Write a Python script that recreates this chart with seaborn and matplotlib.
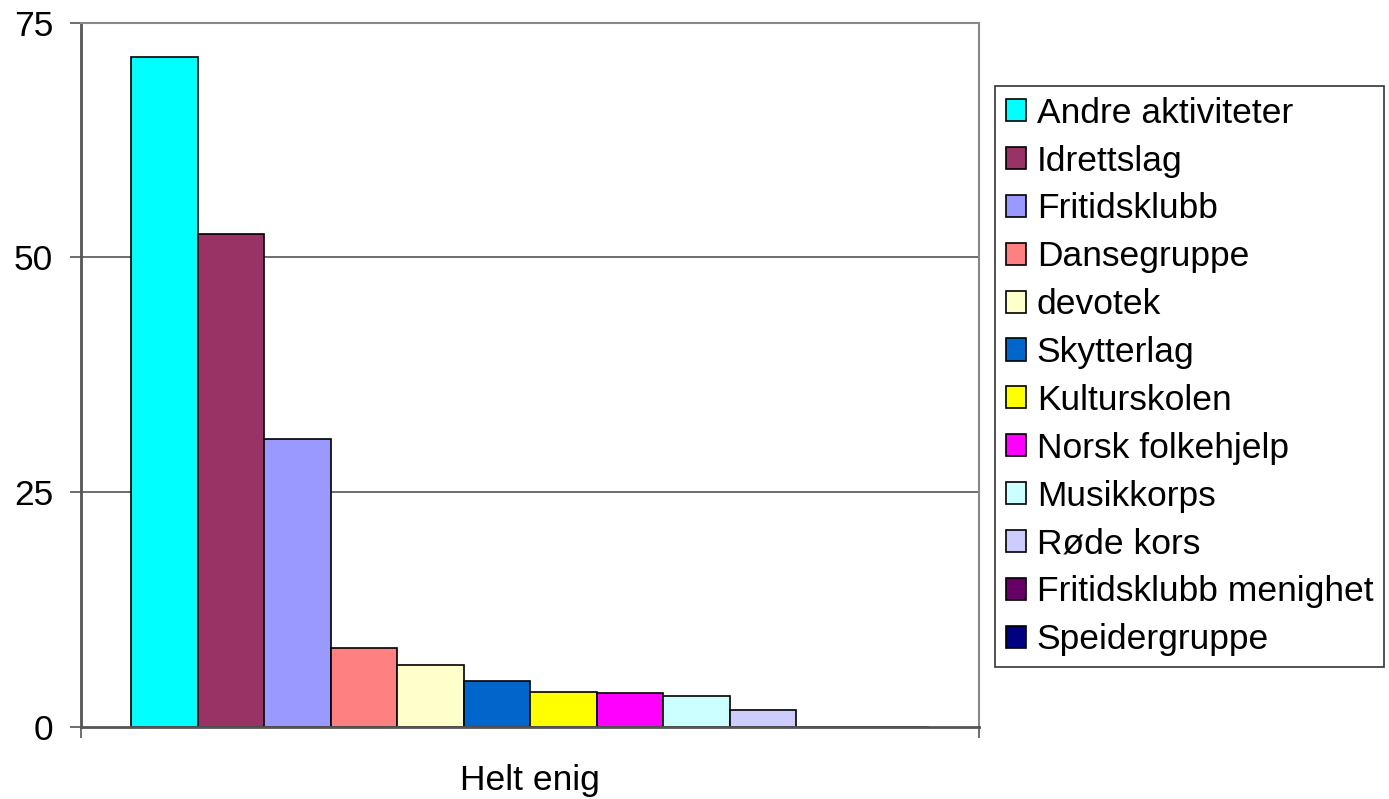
import matplotlib
matplotlib.use("Agg")
import matplotlib.pyplot as plt
import pandas as pd
import seaborn as sns

category = "Helt enig"
activities = [
    "Andre aktiviteter",
    "Idrettslag",
    "Fritidsklubb",
    "Dansegruppe",
    "devotek",
    "Skytterlag",
    "Kulturskolen",
    "Norsk folkehjelp",
    "Musikkorps",
    "Røde kors",
    "Fritidsklubb menighet",
    "Speidergruppe",
]
values = [71.3, 52.5, 30.6, 8.4, 6.6, 4.9, 3.7, 3.6, 3.3, 1.8, 0.0, 0.0]
colors = [
    "#00FFFF", "#993366", "#9999FF", "#FF8080", "#FFFFCC", "#0066CC",
    "#FFFF00", "#FF00FF", "#CCFFFF", "#CCCCFF", "#660066", "#000080",
]
y_ticks = [0, 25, 50, 75]

frame = pd.DataFrame({"category": category, "activity": activities, "value": values})

sns.set_style("white")
plt.rcParams["font.family"] = ["Liberation Sans", "DejaVu Sans"]
plt.rcParams["text.color"] = "black"
axis_grey = "#555555"
font_size = 25.5

fig = plt.figure(figsize=(13.89, 7.99), dpi=100)
ax = fig.add_axes([81 / 1389, 1 - 726.7 / 799, (979 - 81) / 1389, (726.7 - 22.7) / 799])

sns.barplot(
    data=frame,
    x="category",
    y="value",
    hue="activity",
    hue_order=activities,
    palette=colors,
    width=798 / 898,
    edgecolor="black",
    linewidth=1.2,
    saturation=1,
    ax=ax,
)

ax.set_xlim(-0.5, 0.5)
ax.set_ylim(0, 75)
ax.set_yticks(y_ticks)
ax.set_yticklabels([str(t) for t in y_ticks], fontsize=font_size, color="black")
ax.tick_params(axis="y", direction="out", length=8, width=1.2, color=axis_grey, pad=12, left=True)
ax.tick_params(axis="x", which="major", length=0, labelsize=font_size, labelcolor="black", pad=27)
ax.set_xticks([-0.5, 0.5], minor=True)
ax.tick_params(axis="x", which="minor", direction="out", length=8, width=1.2, color=axis_grey, bottom=True)
ax.set_xlabel("")
ax.set_ylabel("")

for y in [25, 50]:
    ax.axhline(y, color=axis_grey, linewidth=1.2, zorder=0)

ax.spines["left"].set_color(axis_grey)
ax.spines["left"].set_linewidth(2)
ax.spines["bottom"].set_color(axis_grey)
ax.spines["bottom"].set_linewidth(2)
ax.spines["top"].set_color("#888888")
ax.spines["top"].set_linewidth(1.5)
ax.spines["right"].set_color("#888888")
ax.spines["right"].set_linewidth(1.5)

handles, labels = ax.get_legend_handles_labels()
ax.get_legend().remove()
leg = fig.legend(
    handles,
    labels,
    loc="upper left",
    bbox_to_anchor=(995 / 1389, 1 - 86 / 799),
    borderaxespad=0,
    fontsize=font_size,
    frameon=True,
    fancybox=False,
    handlelength=0.58,
    handleheight=0.58,
    handletextpad=0.3,
    labelspacing=0.42,
    borderpad=0.3,
)
leg.get_frame().set_edgecolor("black")
leg.get_frame().set_linewidth(1.2)
for text in leg.get_texts():
    text.set_color("black")

fig.savefig("out.png", dpi=100, facecolor="white")
